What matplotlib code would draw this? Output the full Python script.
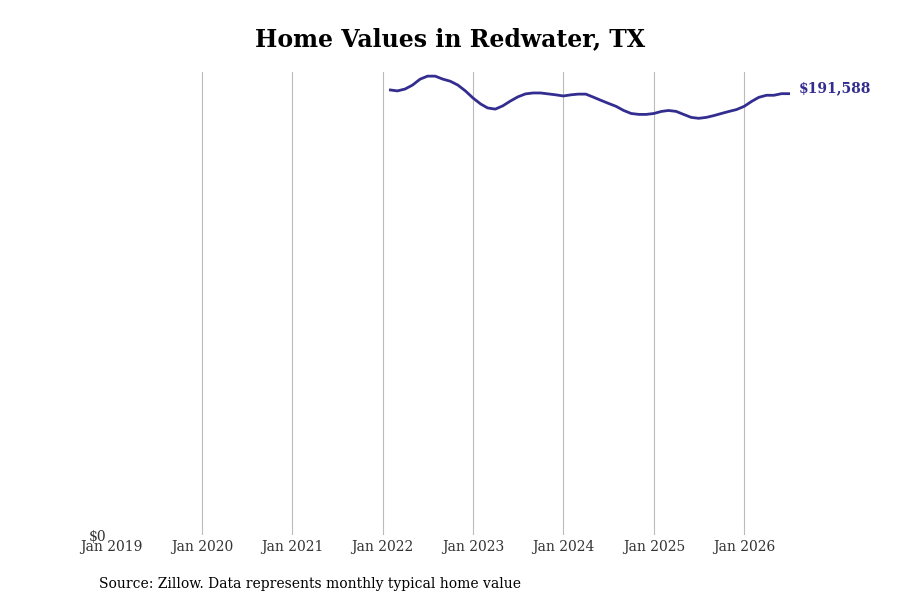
import matplotlib.pyplot as plt
import matplotlib.dates as mdates
import pandas as pd

# monthly typical home value, Feb 2022 - Jul 2026
start_month = "2022-02-01"
values = [193200, 192800, 193600, 195300, 197900, 199200, 199200, 197900,
          197000, 195300, 192800, 189700, 187100, 185400, 184900, 186300,
          188400, 190200, 191500, 191900, 191900, 191500, 191100, 190600,
          191100, 191400, 191400, 190100, 188700, 187400, 186100, 184300,
          183000, 182600, 182600, 183000, 183900, 184300, 183900, 182600,
          181300, 180900, 181300, 182100, 183000, 183900, 184700, 186100,
          188300, 190000, 190900, 190900, 191600, 191588]
dates = pd.date_range(start_month, periods=len(values), freq="MS")
label_last = "$191,588"
line_color = "#332d8f"

plt.rcParams['font.family'] = ['DejaVu Serif']
fig = plt.figure(figsize=(9, 6), dpi=100)
ax = fig.add_axes([0.124, 0.108, 0.754, 0.772])
ax.plot(dates, values, color=line_color, linewidth=2)
ax.set_xlim(pd.Timestamp("2019-01-01"), dates[-1] + pd.Timedelta(days=5))
ax.set_ylim(0, 201000)
ax.xaxis.set_major_locator(mdates.YearLocator())
ax.xaxis.set_major_formatter(mdates.DateFormatter("Jan %Y"))
ax.set_yticks([0])
ax.set_yticklabels(["$0"])
ax.grid(axis="x", color="#bbbbbb", linewidth=0.8)
for s in ax.spines.values():
    s.set_visible(False)
ax.tick_params(length=0, labelsize=10, colors="#333333")
ax.tick_params(axis="y", pad=4)
fig.canvas.draw()
ax.get_xgridlines()[0].set_visible(False)
ax.text(dates[-1] + pd.Timedelta(days=40), values[-1] + 2500, label_last,
        color=line_color, fontsize=10, fontweight="bold", va="center")
fig.suptitle("Home Values in Redwater, TX", fontsize=17, fontweight="bold", y=0.955)
fig.text(0.11, 0.02, "Source: Zillow. Data represents monthly typical home value", fontsize=10)
fig.savefig("out.png")
